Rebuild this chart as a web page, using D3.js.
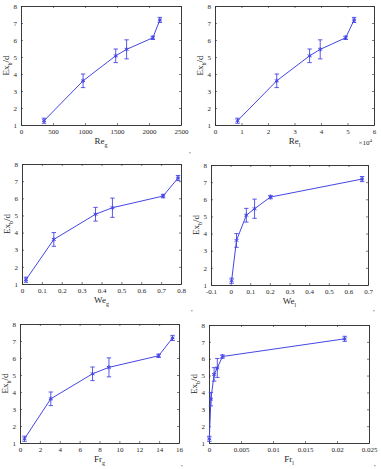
<!DOCTYPE html>
<html><head><meta charset="utf-8">
<script src="https://cdn.jsdelivr.net/npm/d3@7"></script>
<style>
body{margin:0;background:#fff;}
svg{display:block;}
svg text{font-family:"Liberation Serif","Times New Roman","DejaVu Serif",serif;}
</style></head>
<body><svg id="c" width="381" height="469"></svg>
<script>
// ---- data ----
const yValues = [1.25, 3.6, 5.07, 5.45, 6.13, 7.18];
const yErr    = [0.15, 0.40, 0.40, 0.56, 0.10, 0.15];
const xReG = [360, 970, 1480, 1650, 2060, 2170];
const xReL = [8500, 23300, 35700, 39700, 49300, 52500];
const xWeG = [0.02, 0.16, 0.37, 0.455, 0.71, 0.785];
const xWeL = [0.005, 0.03, 0.08, 0.122, 0.203, 0.67];
const xFrG = [0.45, 3.1, 7.3, 8.95, 13.95, 15.35];
const xFrL = [0.00005, 0.0003, 0.0008, 0.0013, 0.0021, 0.0212];
const yTicks = [1,2,3,4,5,6,7,8];
const ticksReG = [0,500,1000,1500,2000,2500];
const ticksReL = [0,10000,20000,30000,40000,50000,60000];
const ticksWeG = [0,0.1,0.2,0.3,0.4,0.5,0.6,0.7,0.8];
const ticksWeL = [-0.1,0,0.1,0.2,0.3,0.4,0.5,0.6,0.7];
const ticksFrG = [0,2,4,6,8,10,12,14,16];
const ticksFrL = [0,0.005,0.01,0.015,0.02,0.025];

const svg = d3.select("#c");
const axisColor = "#262626";
const lineColor = "#4646e6";
const serif = "Liberation Serif, Times New Roman, serif";

const panels = [
  {x:xReG, ticks:ticksReG, dom:[0,2500], name:"Re", sub:"g", box:[21,6,181,125], fmt:d=>String(d)},
  {x:xReL, ticks:ticksReL, dom:[0,60000], name:"Re", sub:"l", box:[215,6,374,125], fmt:d=>String(d/10000), mult:true},
  {x:xWeG, ticks:ticksWeG, dom:[0,0.8], name:"We", sub:"g", box:[22,164,181,284], fmt:d=>String(+d.toFixed(2))},
  {x:xWeL, ticks:ticksWeL, dom:[-0.1,0.7], name:"We", sub:"l", box:[211,165,368,285], fmt:d=>String(+d.toFixed(2))},
  {x:xFrG, ticks:ticksFrG, dom:[0,16], name:"Fr", sub:"g", box:[20,324,179,443], fmt:d=>String(d)},
  {x:xFrL, ticks:ticksFrL, dom:[0,0.025], name:"Fr", sub:"l", box:[209,325,369,443], fmt:d=>String(+d.toFixed(3))}
];

panels.forEach(p=>{
  const [l,t,r,b] = p.box;
  const xs = d3.scaleLinear().domain(p.dom).range([l,r]);
  const ys = d3.scaleLinear().domain([1,8]).range([b,t]);
  const g = svg.append("g");
  const tl = 2;
  const ax = g.append("g").attr("transform",`translate(0,${b})`)
    .call(d3.axisBottom(xs).tickValues(p.ticks).tickFormat(p.fmt).tickSizeInner(-tl).tickSizeOuter(0).tickPadding(4));
  const ay = g.append("g").attr("transform",`translate(${l},0)`)
    .call(d3.axisLeft(ys).tickValues(yTicks).tickFormat(d3.format("d")).tickSizeInner(-tl).tickSizeOuter(0).tickPadding(4));
  const at = g.append("g").attr("transform",`translate(0,${t})`)
    .call(d3.axisTop(xs).tickValues(p.ticks).tickFormat("").tickSizeInner(-tl).tickSizeOuter(0));
  const ar = g.append("g").attr("transform",`translate(${r},0)`)
    .call(d3.axisRight(ys).tickValues(yTicks).tickFormat("").tickSizeInner(-tl).tickSizeOuter(0));
  [ax,ay,at,ar].forEach(a=>{
    a.attr("font-family",serif);
    a.selectAll("path").attr("stroke",axisColor).attr("stroke-width",0.9);
    a.selectAll("line").attr("stroke",axisColor).attr("stroke-width",0.6);
    a.selectAll("text").attr("fill",axisColor).style("font-size","7px");
  });
  // x label
  const xl = g.append("text").attr("x",(l+r)/2).attr("y",b+19).attr("text-anchor","middle")
    .attr("fill",axisColor).style("font-size","9px");
  xl.append("tspan").text(p.name);
  xl.append("tspan").attr("dy",2.5).style("font-size","6px").text(p.sub);
  // y label
  const yl = g.append("text").attr("transform",`translate(${l-12},${(t+b)/2}) rotate(-90)`)
    .attr("text-anchor","middle").attr("fill",axisColor).style("font-size","9px");
  yl.append("tspan").text("Ex");
  yl.append("tspan").attr("dy",2.5).style("font-size","6px").text("b");
  yl.append("tspan").attr("dy",-2.5).text("/d");
  if(p.mult){
    const m = g.append("text").attr("x",r-2).attr("y",b+20).attr("text-anchor","end")
      .attr("fill",axisColor).style("font-size","7px");
    m.append("tspan").text("×10");
    m.append("tspan").attr("dy",-3).style("font-size","5px").text("4");
  }
  // data
  const pts = p.x.map((xv,i)=>({x:xv,y:yValues[i],e:yErr[i]}));
  g.append("path").datum(pts).attr("fill","none").attr("stroke",lineColor).attr("stroke-width",1)
    .attr("d",d3.line().x(d=>xs(d.x)).y(d=>ys(d.y)));
  const eb = g.append("g").attr("stroke",lineColor).attr("stroke-width",0.9);
  pts.forEach(d=>{
    const cx = xs(d.x), y0 = ys(d.y-d.e), y1 = ys(d.y+d.e);
    eb.append("line").attr("x1",cx).attr("x2",cx).attr("y1",y0).attr("y2",y1);
    eb.append("line").attr("x1",cx-2.2).attr("x2",cx+2.2).attr("y1",y0).attr("y2",y0);
    eb.append("line").attr("x1",cx-2.2).attr("x2",cx+2.2).attr("y1",y1).attr("y2",y1);
  });
  g.selectAll(".m").data(pts).enter().append("path")
    .attr("transform",d=>`translate(${xs(d.x)},${ys(d.y)})`)
    .attr("d",d3.symbol().type(d3.symbolAsterisk).size(14))
    .attr("fill","none").attr("stroke",lineColor).attr("stroke-width",1);
});

// stray punctuation marks from original layout
const marks = [[189,153,","],[191,311,","],[373,311,","],[181,466,","],[374,466,","]];
svg.selectAll(".pm").data(marks).enter().append("text")
  .attr("x",d=>d[0]).attr("y",d=>d[1]).text(d=>d[2])
  .attr("fill",axisColor).style("font-size","7px");
</script></body></html>
